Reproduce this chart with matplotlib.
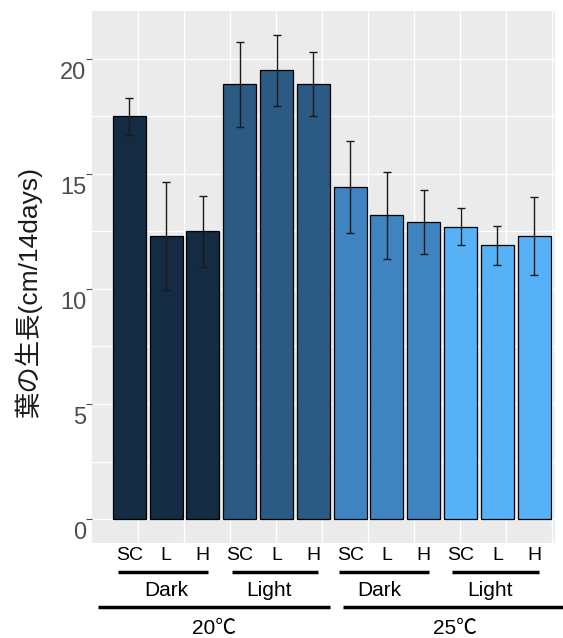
import matplotlib
matplotlib.use("Agg")
import matplotlib.pyplot as plt
import matplotlib.transforms as mtransforms
import numpy as np

plt.rcParams['font.family'] = ['Liberation Sans', 'Noto Sans CJK JP', 'DejaVu Sans']

# data
treatments = ['SC', 'L', 'H'] * 4
light = ['Dark', 'Light', 'Dark', 'Light']
temps = ['20℃', '25℃']
growth = [17.5, 12.3, 12.5, 18.9, 19.5, 18.9, 14.45, 13.2, 12.9, 12.7, 11.9, 12.3]
err = [0.8, 2.35, 1.55, 1.85, 1.55, 1.4, 2.0, 1.9, 1.4, 0.8, 0.85, 1.7]
group_colors = ['#132B43', '#2B5A82', '#3F84C0', '#56B1F7']

x = np.arange(1, len(growth) + 1)
colors = [group_colors[i // 3] for i in range(len(growth))]

fig = plt.figure(figsize=(5.63, 6.38), dpi=100)
ax = fig.add_axes([0.163, 0.149, 0.823, 0.834])
ax.set_facecolor('#EBEBEB')

# grid (white, as in ggplot grey theme)
for yy in np.arange(0, 22.5, 2.5):
    ax.axhline(yy, color='white', lw=1.0, zorder=0)
for xx in 1.23 + 1.251 * np.arange(10):
    ax.axvline(xx, color='white', lw=1.0, zorder=0)

ax.bar(x, growth, width=0.9, color=colors, edgecolor='black', linewidth=0.9, zorder=2)
ax.errorbar(x, growth, yerr=err, fmt='none', ecolor='#1a1a1a', elinewidth=1.0,
            capsize=3, capthick=1.0, zorder=3)

ax.set_xlim(-0.02, 12.57)
ax.set_ylim(-1.04, 22.09)
for s in ax.spines.values():
    s.set_visible(False)

ax.set_yticks([0, 5, 10, 15, 20])
ax.tick_params(axis='y', length=4, color='#4D4D4D', labelsize=17, labelcolor='#4D4D4D', pad=0)
offset = mtransforms.ScaledTranslation(0, -8 / 72, fig.dpi_scale_trans)
for lab in ax.get_yticklabels():
    lab.set_transform(lab.get_transform() + offset)

ax.set_xticks(x)
ax.set_xticklabels(treatments)
ax.tick_params(axis='x', length=0, labelsize=14, labelcolor='black', pad=3)

ax.set_ylabel('葉の生長(cm/14days)', fontsize=19, color='#1a1a1a')
ax.yaxis.set_label_coords(-0.107, 0.47)

# group annotations below the axis
trans = mtransforms.blended_transform_factory(ax.transData, fig.transFigure)
y_line2 = 1 - 572 / 638
y_lab2 = 1 - 591 / 638
y_line1 = 1 - 607 / 638
y_lab1 = 1 - 628 / 638
for g, name in enumerate(light):
    c = 2 + 3 * g
    ax.plot([c - 1.22 - 0.08 * (g % 2 == 0), c + 1.22 - 0.08], [y_line2, y_line2],
            color='black', lw=2.5, transform=trans, clip_on=False, solid_capstyle='butt')
    ax.text(c - 0.2 * (g > 0), y_lab2, name, transform=trans, ha='center', va='center',
            fontsize=15, color='black')
spans = [(0.15, 6.45), (6.8, 12.9)]
for (a, b), name in zip(spans, temps):
    ax.plot([a, b], [y_line1, y_line1], color='black', lw=2.5, transform=trans,
            clip_on=False, solid_capstyle='butt')
    ax.text((a + b) / 2, y_lab1, name, transform=trans, ha='center', va='center',
            fontsize=15, color='black')

fig.savefig('out.png', dpi=100)
